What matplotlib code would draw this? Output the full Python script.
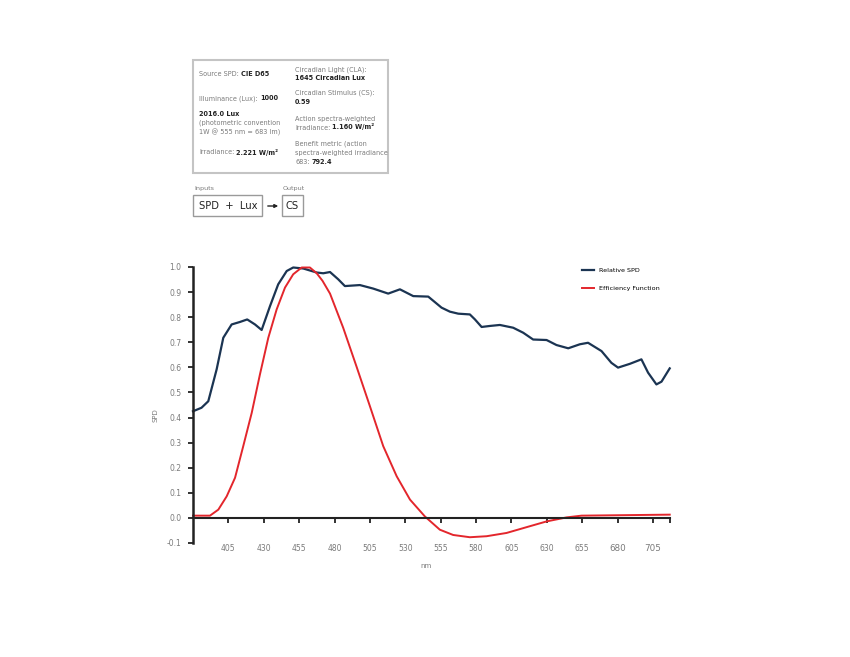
import matplotlib
matplotlib.use("Agg")
import matplotlib.pyplot as plt
from matplotlib.patches import Rectangle, FancyArrowPatch

plt.rcParams["font.family"] = ["DejaVu Sans"]

# -------------------------
# DATA
# -------------------------
spd_nm = [380, 386, 390.8, 396.7, 401.4, 407.3, 413.2, 418.3, 423.8, 428.5, 434.4, 440.2,
          446.2, 450.8, 457.9, 467.4, 472, 476.8, 482.6, 487.3, 497.9, 507.3, 517.9,
          526.2, 535.6, 546.2, 555.6, 561.5, 567.4, 575.6, 579.2, 583.9, 589.7, 596.8,
          606.2, 613.3, 620.3, 629.8, 636.8, 645.1, 653.3, 659.1, 668.6, 675.6, 680.3,
          688.6, 696.8, 701.5, 707.4, 711, 716.8]
spd_val = [0.425, 0.439, 0.465, 0.592, 0.718, 0.771, 0.781, 0.791, 0.771, 0.749, 0.844,
           0.931, 0.984, 0.998, 0.994, 0.978, 0.975, 0.98, 0.951, 0.924, 0.928, 0.914,
           0.894, 0.911, 0.884, 0.882, 0.838, 0.822, 0.814, 0.811, 0.791, 0.761, 0.765,
           0.769, 0.758, 0.738, 0.711, 0.709, 0.689, 0.676, 0.692, 0.698, 0.665, 0.618,
           0.599, 0.614, 0.632, 0.579, 0.532, 0.543, 0.596]

eff_nm = [380, 392, 397.9, 403.8, 409.7, 415.5, 421.5, 427.3, 433.2, 439.1, 445, 450.8,
          456.8, 462.6, 467.4, 471.5, 476.8, 486.1, 495.6, 505, 514.4, 523.9, 533.3,
          543.8, 554.4, 563.8, 575.6, 587.4, 601.5, 615.6, 629.8, 643.9, 654.5, 716.8]
eff_val = [0.009, 0.009, 0.033, 0.086, 0.16, 0.286, 0.419, 0.572, 0.718, 0.831, 0.918,
           0.971, 0.998, 0.998, 0.975, 0.945, 0.894, 0.758, 0.602, 0.445, 0.286, 0.166,
           0.073, 0.006, -0.047, -0.068, -0.077, -0.073, -0.06, -0.037, -0.014, 0.002,
           0.009, 0.013]

x_ticks = [405, 430, 455, 480, 505, 530, 555, 580, 605, 630, 655, 680, 705]
y_ticks = [-0.1, 0.0, 0.1, 0.2, 0.3, 0.4, 0.5, 0.6, 0.7, 0.8, 0.9, 1.0]

NAVY = "#1b3452"
RED = "#e3262c"
GREY = "#7a7a7a"
DARK = "#222222"

W, H = 850, 657
fig = plt.figure(figsize=(W / 100, H / 100), dpi=100)
renderer = fig.canvas.get_renderer()


def fx(px):
    return px / W


def fy(py):
    return 1 - py / H


def rich(px, py, parts, size=4.7):
    # one line of text made of plain and bold pieces
    x = fx(px)
    for s, bold in parts:
        t = fig.text(x, fy(py), s, fontsize=size, va="baseline", ha="left",
                     color=DARK if bold else GREY,
                     weight="bold" if bold else "normal")
        bb = t.get_window_extent(renderer)
        x += (bb.width + 2) / W


# -------------------------
# INFO BOX
# -------------------------
fig.patches.append(Rectangle((fx(193), fy(173)), fx(388) - fx(193), fy(60) - fy(173),
                             transform=fig.transFigure, fill=False,
                             edgecolor="#c4c4c4", linewidth=1.5))

rich(199, 76.5, [("Source SPD:", False), ("CIE D65", True)])
rich(199, 100.5, [("Illuminance (Lux):", False), ("1000", True)])
rich(199, 116, [("2016.0 Lux", True)])
rich(199, 125, [("(photometric convention", False)])
rich(199, 134, [("1W @ 555 nm = 683 lm)", False)])
rich(199, 154.5, [("Irradiance:", False), ("2.221 W/m²", True)])

rich(295, 71.5, [("Circadian Light (CLA):", False)])
rich(295, 80.5, [("1645 Circadian Lux", True)])
rich(295, 94.5, [("Circadian Stimulus (CS):", False)])
rich(295, 104.5, [("0.59", True)])
rich(295, 120.5, [("Action spectra-weighted", False)])
rich(295, 129.5, [("Irradiance:", False), ("1.160 W/m²", True)])
rich(295, 145.5, [("Benefit metric (action", False)])
rich(295, 154.5, [("spectra-weighted irradiance", False)])
rich(295, 163.5, [("683:", False), ("792.4", True)])

# -------------------------
# INPUT / OUTPUT
# -------------------------
fig.text(fx(194), fy(190), "Inputs", fontsize=4.6, color=GREY, va="baseline")
fig.text(fx(283), fy(190), "Output", fontsize=4.6, color=GREY, va="baseline")
fig.patches.append(Rectangle((fx(193), fy(216)), fx(262) - fx(193), fy(195) - fy(216),
                             transform=fig.transFigure, fill=False,
                             edgecolor="#9a9a9a", linewidth=1.0))
fig.patches.append(Rectangle((fx(282), fy(216)), fx(303) - fx(282), fy(195) - fy(216),
                             transform=fig.transFigure, fill=False,
                             edgecolor="#9a9a9a", linewidth=1.0))
fig.text(fx(228), fy(206), "SPD  +  Lux", fontsize=7.2, color=DARK, ha="center", va="center")
fig.text(fx(292.5), fy(206), "CS", fontsize=7.2, color=DARK, ha="center", va="center")
fig.patches.append(FancyArrowPatch((fx(265), fy(206)), (fx(281), fy(206)),
                                   transform=fig.transFigure, arrowstyle="-|>",
                                   mutation_scale=5, color=DARK, linewidth=1.0))

# -------------------------
# CHART
# -------------------------
ax = fig.add_axes([fx(193), fy(543), fx(670) - fx(193), fy(267) - fy(543)])
ax.plot(spd_nm, spd_val, color=NAVY, linewidth=1.6, label="Relative SPD",
        clip_on=False, solid_joinstyle="round")
ax.plot(eff_nm, eff_val, color=RED, linewidth=1.4, label="Efficiency Function",
        clip_on=False, solid_joinstyle="round")

ax.set_xlim(380, 717)
ax.set_ylim(-0.1, 1.0)

ax.spines["top"].set_visible(False)
ax.spines["right"].set_visible(False)
ax.spines["left"].set_linewidth(1.8)
ax.spines["left"].set_color(DARK)
ax.spines["bottom"].set_position(("data", 0))
ax.spines["bottom"].set_linewidth(1.5)
ax.spines["bottom"].set_color(DARK)

ax.set_xticks(x_ticks)
ax.set_xticklabels([str(v) for v in x_ticks])
ax.set_xticks([717], minor=True)
ax.set_yticks(y_ticks)
ax.set_yticklabels(["%.1f" % v for v in y_ticks])

ax.tick_params(axis="x", which="both", direction="out", length=3.5, width=1.3,
               color=DARK, labelsize=5.5, labelcolor=GREY, pad=15)
ax.tick_params(axis="y", direction="out", length=3.5, width=1.3,
               color=DARK, labelsize=5.5, labelcolor=GREY, pad=5)
for lbl in ax.get_xticklabels()[-2:]:
    lbl.set_fontsize(6.3)

fig.text(fx(155), fy(415), "SPD", fontsize=5, color=GREY, rotation=90,
         ha="center", va="center")
fig.text(fx(426), fy(566), "nm", fontsize=5, color=GREY, ha="center", va="center")

fig.legend(loc="upper left", bbox_to_anchor=(fx(576), fy(262)), frameon=False,
           fontsize=4.6, handlelength=1.9, labelspacing=2.0, handletextpad=0.8)

fig.savefig("out.png", dpi=100)
